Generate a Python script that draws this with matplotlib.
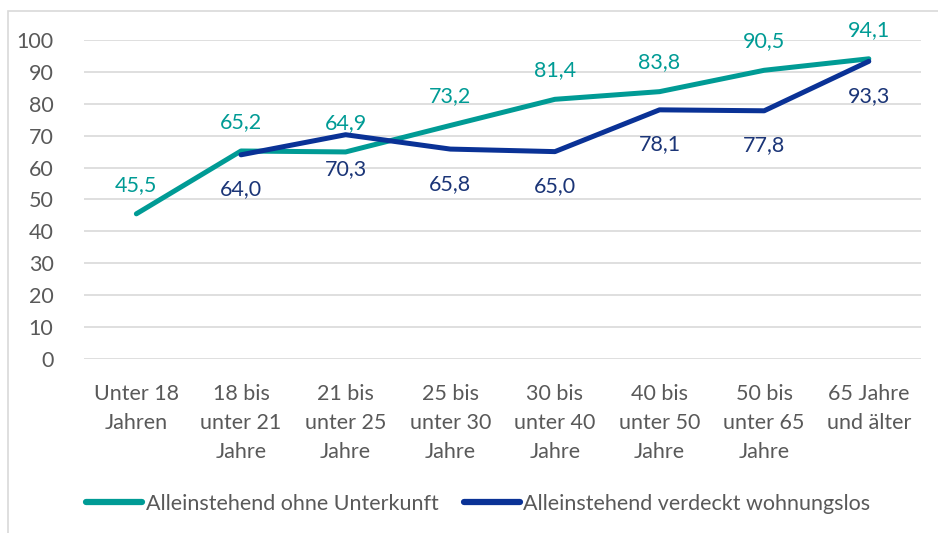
import matplotlib
matplotlib.use("Agg")
import matplotlib.pyplot as plt
import numpy as np
from matplotlib.patches import Rectangle

categories = [
    "Unter 18\nJahren",
    "18 bis\nunter 21\nJahre",
    "21 bis\nunter 25\nJahre",
    "25 bis\nunter 30\nJahre",
    "30 bis\nunter 40\nJahre",
    "40 bis\nunter 50\nJahre",
    "50 bis\nunter 65\nJahre",
    "65 Jahre\nund älter",
]
ohne_unterkunft = [45.5, 65.2, 64.9, 73.2, 81.4, 83.8, 90.5, 94.1]
verdeckt = [np.nan, 64.0, 70.3, 65.8, 65.0, 78.1, 77.8, 93.3]
series_names = ["Alleinstehend ohne Unterkunft", "Alleinstehend verdeckt wohnungslos"]

TEAL = "#009B95"
NAVY = "#0A3296"
NAVY_TXT = "#1B3577"
GRAY = "#595959"
FS = 15.5

plt.rcParams["font.family"] = ["Lato", "DejaVu Sans"]

fig = plt.figure(figsize=(9.38, 5.33), dpi=100)
ax = fig.add_axes([0.0896, 0.3265, 0.8924, 0.5985])

# light frame around the chart
fig.patches.append(Rectangle((0.009, -0.01), 1.2, 0.99, transform=fig.transFigure,
                             fill=False, edgecolor="#D9D9D9", linewidth=1.2))

x = np.arange(len(categories))
ax.plot(x, ohne_unterkunft, color=TEAL, lw=3.6, label=series_names[0],
        solid_capstyle="round", solid_joinstyle="round", zorder=3)
ax.plot(x, verdeckt, color=NAVY, lw=3.6, label=series_names[1],
        solid_capstyle="round", solid_joinstyle="round", zorder=4)

for xi, v in zip(x, ohne_unterkunft):
    ax.annotate(f"{v:.1f}".replace(".", ","), (xi, v), xytext=(0, 21),
                textcoords="offset points", ha="center", va="center",
                color=TEAL, fontsize=FS)
for xi, v in zip(x, verdeckt):
    if np.isnan(v):
        continue
    ax.annotate(f"{v:.1f}".replace(".", ","), (xi, v), xytext=(0, -25),
                textcoords="offset points", ha="center", va="center",
                color=NAVY_TXT, fontsize=FS)

ax.set_xlim(-0.5, len(categories) - 0.5)
ax.set_ylim(0, 100)
ax.set_yticks(np.arange(0, 101, 10))
ax.set_xticks(x)
ax.set_xticklabels(categories, linespacing=1.55)
ax.tick_params(axis="both", length=0, labelsize=FS, labelcolor=GRAY)
ax.tick_params(axis="x", pad=18)
ax.tick_params(axis="y", pad=22)
ax.grid(axis="y", color="#D9D9D9", lw=1.2)
ax.set_axisbelow(True)
for s in ax.spines.values():
    s.set_visible(False)

leg = fig.legend(loc="center", bbox_to_anchor=(0.51, 0.055), ncol=2, frameon=False,
                 fontsize=FS, handlelength=2.6, handletextpad=0.15, columnspacing=1.2,
                 labelcolor=GRAY)
for h in leg.get_lines():
    h.set_linewidth(4.5)

fig.savefig("out.png", dpi=100)
